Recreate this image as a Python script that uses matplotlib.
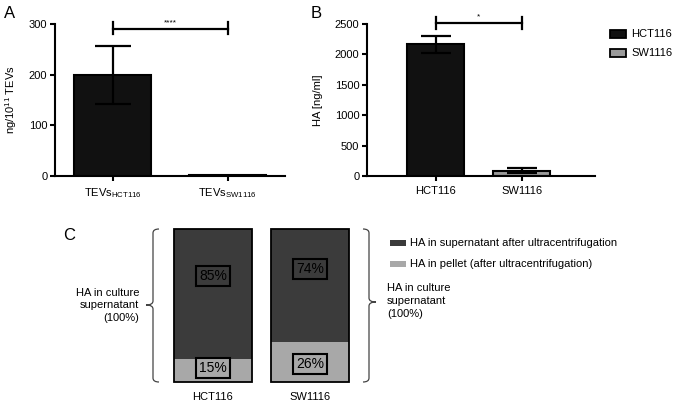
import matplotlib
matplotlib.use('Agg')
import matplotlib.pyplot as plt
from matplotlib.patches import Rectangle, PathPatch
from matplotlib.path import Path
import numpy as np

plt.rcParams['font.family'] = ['Liberation Sans', 'DejaVu Sans']
plt.rcParams['mathtext.fontset'] = 'custom'
plt.rcParams['mathtext.rm'] = 'Liberation Sans'
plt.rcParams['mathtext.it'] = 'Liberation Sans:italic'
plt.rcParams['mathtext.bf'] = 'Liberation Sans:bold'

# ---------------- data ----------------
a_cats = ['TEVs$_{\\mathregular{HCT116}}$', 'TEVs$_{\\mathregular{SW1116}}$']
a_vals = [200, 1.5]
a_err = [57, 0]
a_yticks = [0, 100, 200, 300]

b_cats = ['HCT116', 'SW1116']
b_vals = [2170, 85]
b_err = [140, 40]
b_yticks = [0, 500, 1000, 1500, 2000, 2500]

c_cats = ['HCT116', 'SW1116']
c_pellet = [15, 26]
c_super = [85, 74]
c_super_label_y = [69, 74]
c_pellet_label_y = [9, 12]

DARK = '#111111'
GREY = '#9a9a9a'
C_DARK = '#3b3b3b'
C_LIGHT = '#a8a8a8'

W, H = 677, 403
fig = plt.figure(figsize=(W / 100, H / 100), dpi=100)


def rect(l, t, r, b):
    return [l / W, 1 - b / H, (r - l) / W, (b - t) / H]


def fx(x):
    return x / W


def fy(y):
    return 1 - y / H


def style_axis(ax):
    for s in ['top', 'right']:
        ax.spines[s].set_visible(False)
    for s in ['left', 'bottom']:
        ax.spines[s].set_linewidth(1.5)
    ax.tick_params(axis='both', direction='out', length=3.5, width=1.5,
                   labelsize=8, colors='black')
    ax.tick_params(axis='y', pad=2)
    ax.tick_params(axis='x', pad=4)


# ---------------- panel A ----------------
axA = fig.add_axes(rect(55, 24, 285, 176))
xa = np.arange(len(a_cats))
axA.bar(xa, a_vals, width=0.67, color=[DARK, GREY], edgecolor='black',
        linewidth=1.5, zorder=2)
axA.errorbar(xa[:1], a_vals[:1], yerr=a_err[:1], fmt='none', ecolor='black',
             elinewidth=1.6, capsize=13, capthick=1.6, zorder=3)
axA.set_xlim(-0.5, 1.5)
axA.set_ylim(0, 300)
axA.set_yticks(a_yticks)
axA.set_xticks(xa)
axA.set_xticklabels(a_cats)
style_axis(axA)
axA.set_ylabel('ng/10$^{\\mathregular{11}}$ TEVs', fontsize=8)
axA.yaxis.set_label_coords(-0.155, 0.5)
# significance bracket
axA.plot([0, 1], [290, 290], color='black', lw=1.6, clip_on=False)
axA.plot([0, 0], [280, 304], color='black', lw=1.6, clip_on=False)
axA.plot([1, 1], [280, 304], color='black', lw=1.6, clip_on=False)
axA.text(0.5, 296, '****', ha='center', va='bottom', fontsize=6)

# ---------------- panel B ----------------
axB = fig.add_axes(rect(367, 24, 595, 176))
xb = np.arange(len(b_cats))
axB.bar(xb, b_vals, width=0.66, color=[DARK, GREY], edgecolor='black',
        linewidth=1.5, zorder=2)
axB.errorbar(xb, b_vals, yerr=b_err, fmt='none', ecolor='black',
             elinewidth=1.6, capsize=10.5, capthick=1.6, zorder=3)
axB.set_xlim(-0.8, 1.85)
axB.set_ylim(0, 2500)
axB.set_yticks(b_yticks)
axB.set_xticks(xb)
axB.set_xticklabels(b_cats)
style_axis(axB)
axB.set_ylabel('HA [ng/ml]', fontsize=8)
axB.yaxis.set_label_coords(-0.195, 0.5)
axB.plot([0, 1], [2516, 2516], color='black', lw=1.6, clip_on=False)
axB.plot([0, 0], [2418, 2615], color='black', lw=1.6, clip_on=False)
axB.plot([1, 1], [2418, 2615], color='black', lw=1.6, clip_on=False)
axB.text(0.5, 2555, '*', ha='center', va='bottom', fontsize=6)

# legend B
for y, col, lab in [(34, DARK, b_cats[0]), (53, GREY, b_cats[1])]:
    fig.patches.append(Rectangle((fx(610), fy(y + 3.5)), 16 / W, 7 / H,
                                 transform=fig.transFigure, facecolor=col,
                                 edgecolor='black', linewidth=1.3))
    fig.text(fx(631), fy(y), lab, ha='left', va='center', fontsize=8)

# ---------------- panel C ----------------
axC = fig.add_axes(rect(174, 229, 349, 382))
xc = np.arange(len(c_cats))
axC.bar(xc, c_pellet, width=0.8, color=C_LIGHT, linewidth=0, zorder=1)
axC.bar(xc, c_super, bottom=c_pellet, width=0.8, color=C_DARK, linewidth=0,
        zorder=1)
totals = [p + s for p, s in zip(c_pellet, c_super)]
axC.bar(xc, totals, width=0.8, fill=False, edgecolor='black', linewidth=1.3,
        zorder=2, clip_on=False)
for i in range(len(c_cats)):
    axC.text(xc[i], c_super_label_y[i], f'{c_super[i]}%', ha='center',
             va='center', fontsize=10, color='black',
             bbox=dict(boxstyle='square,pad=0.22', fc=C_DARK, ec='black',
                       lw=1.5))
    axC.text(xc[i], c_pellet_label_y[i], f'{c_pellet[i]}%', ha='center',
             va='center', fontsize=10, color='black',
             bbox=dict(boxstyle='square,pad=0.22', fc=C_LIGHT, ec='black',
                       lw=1.5))
axC.set_xlim(-0.4, 1.4)
axC.set_ylim(0, 100)
for s in axC.spines.values():
    s.set_visible(False)
axC.set_yticks([])
axC.set_xticks(xc)
axC.set_xticklabels(c_cats)
axC.tick_params(axis='x', length=0, pad=7, labelsize=8)


# braces (figure pixel coords)
def brace(xv, xtip, ytop, ybot, ymid, direction):
    h = 6 * direction  # hook towards bars
    verts = [(xv + h, ytop), (xv, ytop), (xv, ytop + 4),
             (xv, ymid - 4), (xv, ymid), (xtip, ymid),
             (xv, ymid), (xv, ymid + 4),
             (xv, ybot - 4), (xv, ybot), (xv + h, ybot)]
    codes = [Path.MOVETO, Path.CURVE3, Path.CURVE3,
             Path.LINETO, Path.CURVE3, Path.CURVE3,
             Path.CURVE3, Path.CURVE3,
             Path.LINETO, Path.CURVE3, Path.CURVE3]
    v = [(fx(a), fy(b)) for a, b in verts]
    p = PathPatch(Path(v, codes), fill=False, edgecolor='#444444', lw=0.9,
                  transform=fig.transFigure)
    fig.patches.append(p)


brace(153, 146, 229, 382, 305, 1)
brace(369, 376, 229, 382, 302, -1)

fig.text(fx(139), fy(305.5), 'HA in culture\nsupernatant\n(100%)', ha='right',
         va='center', multialignment='right', fontsize=8, linespacing=1.35)
fig.text(fx(387), fy(301), 'HA in culture\nsupernatant\n(100%)', ha='left',
         va='center', multialignment='left', fontsize=8, linespacing=1.35)

# legend C
for y, col, lab in [(243, C_DARK, 'HA in supernatant after ultracentrifugation'),
                    (264, C_LIGHT, 'HA in pellet (after ultracentrifugation)')]:
    fig.patches.append(Rectangle((fx(390), fy(y + 3)), 16 / W, 6 / H,
                                 transform=fig.transFigure, facecolor=col,
                                 edgecolor='none'))
    fig.text(fx(410), fy(y), lab, ha='left', va='center', fontsize=8)

# panel letters
fig.text(fx(10), fy(14), 'A', ha='center', va='center', fontsize=12)
fig.text(fx(316), fy(14), 'B', ha='center', va='center', fontsize=12)
fig.text(fx(69), fy(236), 'C', ha='center', va='center', fontsize=12)

fig.savefig('out.png', dpi=100)
